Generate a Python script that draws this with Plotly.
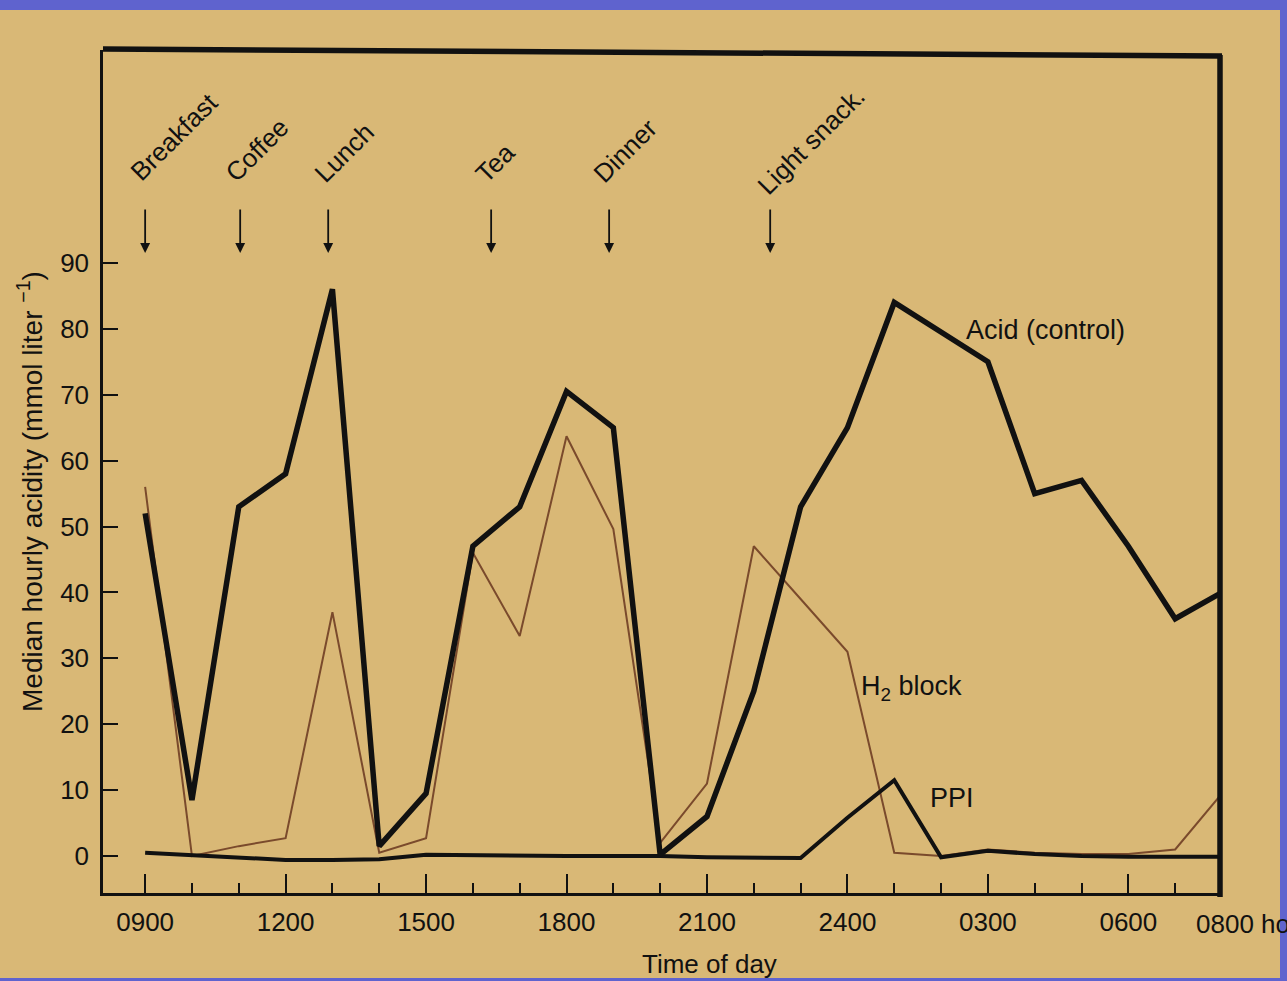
import plotly.graph_objects as go

# ---------------- data ----------------
hours = list(range(24))  # 0 = 0900 ... 23 = 0800 next day
acid_control = [52, 8.5, 53, 58, 86, 1.5, 9.5, 47, 53, 70.5, 65, 0.2, 6, 25, 53, 65,
                84, 79.5, 75, 55, 57, 47, 36, 40]
h2_block = [56, 0, 1.5, 2.7, 37, 0.5, 2.7, 46, 33.4, 63.7, 49.6, 2, 11, 47, 39, 31,
            0.5, 0, 1, 0.5, 0.3, 0.3, 1, 9.5]
ppi = [0.5, 0.1, -0.3, -0.6, -0.6, -0.5, 0.2, 0.1, 0, 0, 0, 0, -0.2, -0.3, -0.3, 5.8,
       11.5, -0.2, 0.8, 0.3, 0, -0.1, -0.1, -0.1]

tick_hours = [0, 3, 6, 9, 12, 15, 18, 21]
tick_labels = ["0900", "1200", "1500", "1800", "2100", "2400", "0300", "0600"]
last_label = "0800 hours"

meals = ["Breakfast", "Coffee", "Lunch", "Tea", "Dinner", "Light snack."]
meal_hours = [0, 2.03, 3.91, 7.39, 9.91, 13.35]

y_ticks = [0, 10, 20, 30, 40, 50, 60, 70, 80, 90]

# ---------------- style ----------------
W, H = 1287, 981
L, R, T, B = 103, 1222, 50, 893  # plot area pixel box
TAN = "#D9B876"
BLUE = "#5F63CE"
INK = "#111111"
H2COL = "#7a4a2c"
NARROW = "Liberation Sans Narrow, Arial Narrow, Liberation Sans, Arial"
SANS = "Liberation Sans, Arial, Helvetica"


def pxx(px):
    return (px - L) / (R - L)


def pxy(py):
    return (B - py) / (B - T)


fig = go.Figure()

fig.add_trace(go.Scatter(x=hours, y=h2_block, mode="lines",
                         line=dict(color=H2COL, width=2), name="H2 block",
                         cliponaxis=False))
fig.add_trace(go.Scatter(x=hours, y=ppi, mode="lines",
                         line=dict(color=INK, width=4), name="PPI",
                         cliponaxis=False))
fig.add_trace(go.Scatter(x=hours, y=acid_control, mode="lines",
                         line=dict(color=INK, width=5.5), name="Acid (control)",
                         cliponaxis=False))

shapes = [
    # tan page over blue slide background
    dict(type="rect", xref="paper", yref="paper", layer="below",
         x0=pxx(0), x1=pxx(1280), y0=pxy(978), y1=pxy(10),
         fillcolor=TAN, line=dict(width=0)),
    # thick top border (slightly slanted as in scan)
    dict(type="line", xref="paper", yref="paper",
         x0=pxx(103), x1=pxx(1222), y0=pxy(49), y1=pxy(56),
         line=dict(color=INK, width=5.5)),
    # thick right border
    dict(type="line", xref="paper", yref="paper",
         x0=pxx(1220), x1=pxx(1220), y0=pxy(897), y1=pxy(55),
         line=dict(color=INK, width=5.5)),
]

annotations = []
# meal arrows
for mh in meal_hours:
    annotations.append(dict(x=mh, y=(856 - 253) / 6.59, xref="x", yref="y",
                            text="", showarrow=True, ax=0, ay=-45,
                            arrowhead=2, arrowsize=1.1, arrowwidth=1.8,
                            arrowcolor=INK, standoff=0))
# meal labels (rotated)
label_centers = [(174, 137), (257, 150), (344, 153), (495, 163), (625, 151), (811, 141)]
for name, (cx, cy) in zip(meals, label_centers):
    annotations.append(dict(x=pxx(cx), y=pxy(cy), xref="paper", yref="paper",
                            text=name, showarrow=False, textangle=-45,
                            xanchor="center", yanchor="middle",
                            font=dict(family=SANS, size=26, color=INK)))
# series labels
annotations += [
    dict(x=pxx(1045), y=pxy(330), xref="paper", yref="paper", text="Acid (control)",
         showarrow=False, xanchor="center", yanchor="middle",
         font=dict(family=SANS, size=27, color=INK)),
    dict(x=pxx(911), y=pxy(688), xref="paper", yref="paper", text="H<sub>2</sub> block",
         showarrow=False, xanchor="center", yanchor="middle",
         font=dict(family=SANS, size=27, color=INK)),
    dict(x=pxx(952), y=pxy(798), xref="paper", yref="paper", text="PPI",
         showarrow=False, xanchor="center", yanchor="middle",
         font=dict(family=SANS, size=27, color=INK)),
    # last x label (cut by the slide frame, as in the original)
    dict(x=pxx(1194), y=pxy(924), xref="paper", yref="paper", text=last_label,
         showarrow=False, xanchor="left", yanchor="middle",
         font=dict(family=NARROW, size=26, color=INK)),
    # axis titles
    dict(x=pxx(709), y=pxy(964), xref="paper", yref="paper", text="Time of day",
         showarrow=False, xanchor="center", yanchor="middle",
         font=dict(family=NARROW, size=26, color=INK)),
    dict(x=pxx(30), y=pxy(492), xref="paper", yref="paper",
         text="Median hourly acidity (mmol liter <sup>\u22121</sup>)",
         showarrow=False, textangle=-90, xanchor="center", yanchor="middle",
         font=dict(family=SANS, size=28, color=INK)),
]

fig.update_layout(
    width=W, height=H,
    margin=dict(l=L, r=W - R, t=T, b=H - B, pad=0),
    paper_bgcolor=BLUE,
    plot_bgcolor="rgba(0,0,0,0)",
    showlegend=False,
    shapes=shapes,
    annotations=annotations,
    xaxis=dict(range=[-0.9, 23.0], showgrid=False, zeroline=False,
               showline=True, linecolor=INK, linewidth=2.5,
               ticks="inside", ticklen=19, tickwidth=2, tickcolor=INK,
               tickvals=tick_hours, ticktext=tick_labels,
               ticklabelstandoff=4,
               minor=dict(ticks="inside", dtick=1, tick0=0, ticklen=10,
                          tickwidth=2, tickcolor=INK, showgrid=False),
               tickfont=dict(family=NARROW, size=26, color=INK)),
    yaxis=dict(range=[-5.61, 122.3], showgrid=False, zeroline=False,
               showline=True, linecolor=INK, linewidth=2.5,
               ticks="inside", ticklen=15, tickwidth=2, tickcolor=INK,
               tickvals=y_ticks, ticktext=[str(v) for v in y_ticks],
               ticklabelstandoff=6,
               tickfont=dict(family=NARROW, size=26, color=INK)),
)

fig.write_html(
    "out.html",
    config={"displayModeBar": False},
    post_script="document.body.style.margin='0';document.body.style.overflow='hidden';",
)
